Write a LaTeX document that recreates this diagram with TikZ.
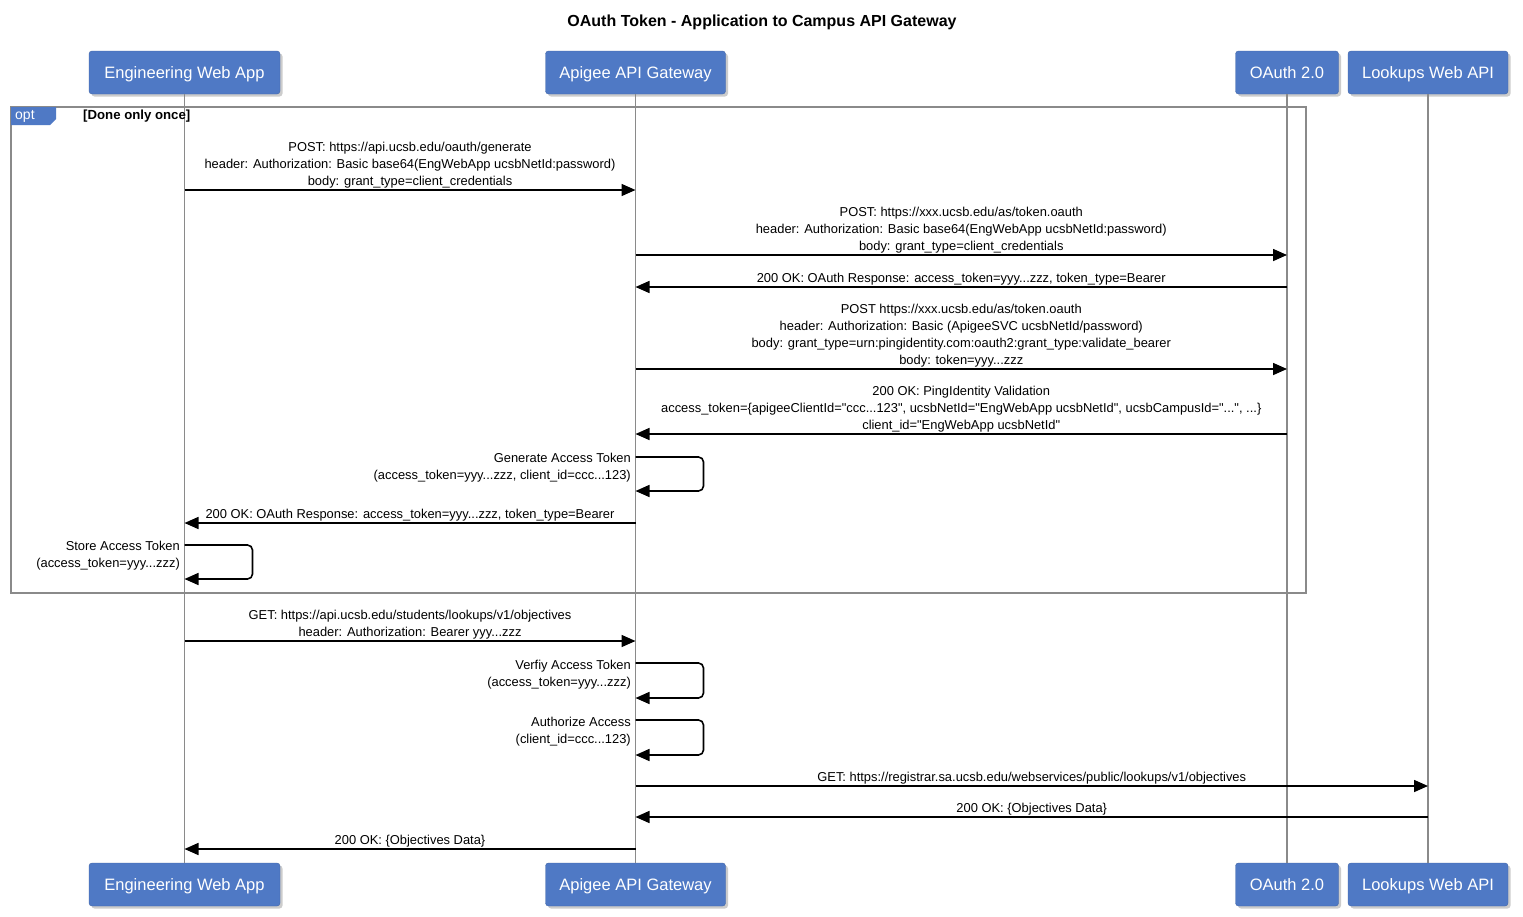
\documentclass[tikz,border=0pt]{standalone}
\usepackage{fontspec}
\setmainfont{Liberation Sans}[Ligatures=TeXOff]
\usetikzlibrary{arrows.meta,shadows}
\definecolor{partblue}{HTML}{4F79C5}
\definecolor{lifegray}{HTML}{8A8A8A}
\begin{document}
\begin{tikzpicture}[x=1pt,y=-1pt,
  part/.style={draw=partblue!85!black, fill=partblue, rounded corners=3pt, minimum height=43pt,
    text=white, font=\fontsize{16.5}{18}\selectfont, inner sep=0pt, text height=12pt, text depth=0pt,
    drop shadow={shadow xshift=2.5pt,shadow yshift=-2.5pt,opacity=0.4}},
  msg/.style={draw=black, line width=1.6pt, -{Triangle[length=14pt,width=12pt]}},
  lbl/.style={font=\fontsize{12.9}{17}\selectfont, align=center, inner sep=0pt, above=1.2pt},
  selflbl/.style={font=\fontsize{12.9}{17}\selectfont, align=right, inner sep=0pt, anchor=east},
  life/.style={draw=lifegray, line width=1.3pt},
]
\useasboundingbox (0,0) rectangle (1523,916);
\fill[white] (0,0) rectangle (1523,916);

% title
\node[font=\bfseries\fontsize{16}{18}\selectfont] (title) at (762,22) {OAuth Token - Application to Campus API Gateway};

% participants
\node[part, minimum width=191pt] (ewaT) at (184.5,72.5) {Engineering Web App};
\node[part, minimum width=180pt] (apiT) at (635.5,72.5) {Apigee API Gateway};
\node[part, minimum width=103pt] (oaT) at (1287,72.5) {OAuth 2.0};
\node[part, minimum width=160pt] (lkT) at (1428,72.5) {Lookups Web API};
\node[part, minimum width=191pt] (ewaB) at (184.5,884.5) {Engineering Web App};
\node[part, minimum width=180pt] (apiB) at (635.5,884.5) {Apigee API Gateway};
\node[part, minimum width=103pt] (oaB) at (1287,884.5) {OAuth 2.0};
\node[part, minimum width=160pt] (lkB) at (1428,884.5) {Lookups Web API};

% lifelines
\draw[life] (ewaT.south) -- (ewaB.north);
\draw[life] (apiT.south) -- (apiB.north);
\draw[life] (oaT.south) -- (oaB.north);
\draw[life] (lkT.south) -- (lkB.north);

% opt frame
\draw[lifegray, line width=1.3pt] (11,107) rectangle (1306,593);
\fill[partblue] (11,107) -- (56,107) -- (56,119) -- (50,125) -- (11,125) -- cycle;
\node[anchor=west, text=white, font=\fontsize{14}{16}\selectfont, inner sep=0pt] (optlbl) at (15,116) {opt};
\node[anchor=west, font=\bfseries\fontsize{13.2}{15}\selectfont, inner sep=0pt] (guard) at (83,116) {[Done only once]};

% 1
\draw[msg] (ewaT |- 0,190) -- (apiT |- 0,190) node[lbl, midway] (l1) {POST: https://api.ucsb.edu/oauth/generate\\header: Authorization: Basic base64(EngWebApp ucsbNetId:password)\\body: grant\_type=client\_credentials};
% 2
\draw[msg] (apiT |- 0,255) -- (oaT |- 0,255) node[lbl, midway] (l2) {POST: https://xxx.ucsb.edu/as/token.oauth\\header: Authorization: Basic base64(EngWebApp ucsbNetId:password)\\body: grant\_type=client\_credentials};
% 3
\draw[msg] (oaT |- 0,287) -- (apiT |- 0,287) node[lbl, midway] (l3) {200 OK: OAuth Response: access\_token=yyy...zzz, token\_type=Bearer};
% 4
\draw[msg] (apiT |- 0,369) -- (oaT |- 0,369) node[lbl, midway] (l4) {POST https://xxx.ucsb.edu/as/token.oauth\\header: Authorization: Basic (ApigeeSVC ucsbNetId/password)\\body: grant\_type=urn:pingidentity.com:oauth2:grant\_type:validate\_bearer\\body: token=yyy...zzz};
% 5
\draw[msg] (oaT |- 0,434) -- (apiT |- 0,434) node[lbl, midway] (l5) {200 OK: PingIdentity Validation\\access\_token=\{apigeeClientId="ccc...123", ucsbNetId="EngWebApp ucsbNetId", ucsbCampusId="...", ...\}\\client\_id="EngWebApp ucsbNetId"};
% 6 self
\draw[msg, rounded corners=5pt] (apiT |- 0,457) -- ++(68,0) -- ++(0,34) -- (apiT |- 0,491);
\node[selflbl] (l6) at (631,468) {Generate Access Token\\(access\_token=yyy...zzz, client\_id=ccc...123)};
% 7
\draw[msg] (apiT |- 0,523) -- (ewaT |- 0,523) node[lbl, midway] (l7) {200 OK: OAuth Response: access\_token=yyy...zzz, token\_type=Bearer};
% 8 self
\draw[msg, rounded corners=5pt] (ewaT |- 0,545) -- ++(68,0) -- ++(0,34) -- (ewaT |- 0,579);
\node[selflbl] (l8) at (180,556) {Store Access Token\\(access\_token=yyy...zzz)};
% 9
\draw[msg] (ewaT |- 0,641) -- (apiT |- 0,641) node[lbl, midway] (l9) {GET: https://api.ucsb.edu/students/lookups/v1/objectives\\header: Authorization: Bearer yyy...zzz};
% 10 self
\draw[msg, rounded corners=5pt] (apiT |- 0,663) -- ++(68,0) -- ++(0,35) -- (apiT |- 0,698);
\node[selflbl] (l10) at (631,675) {Verfiy Access Token\\(access\_token=yyy...zzz)};
% 11 self
\draw[msg, rounded corners=5pt] (apiT |- 0,720) -- ++(68,0) -- ++(0,35) -- (apiT |- 0,755);
\node[selflbl] (l11) at (631,732) {Authorize Access\\(client\_id=ccc...123)};
% 12
\draw[msg] (apiT |- 0,786) -- (lkT |- 0,786) node[lbl, midway] (l12) {GET: https://registrar.sa.ucsb.edu/webservices/public/lookups/v1/objectives};
% 13
\draw[msg] (lkT |- 0,817) -- (apiT |- 0,817) node[lbl, midway] (l13) {200 OK: \{Objectives Data\}};
% 14
\draw[msg] (apiT |- 0,849) -- (ewaT |- 0,849) node[lbl, midway] (l14) {200 OK: \{Objectives Data\}};
\end{tikzpicture}
\end{document}
